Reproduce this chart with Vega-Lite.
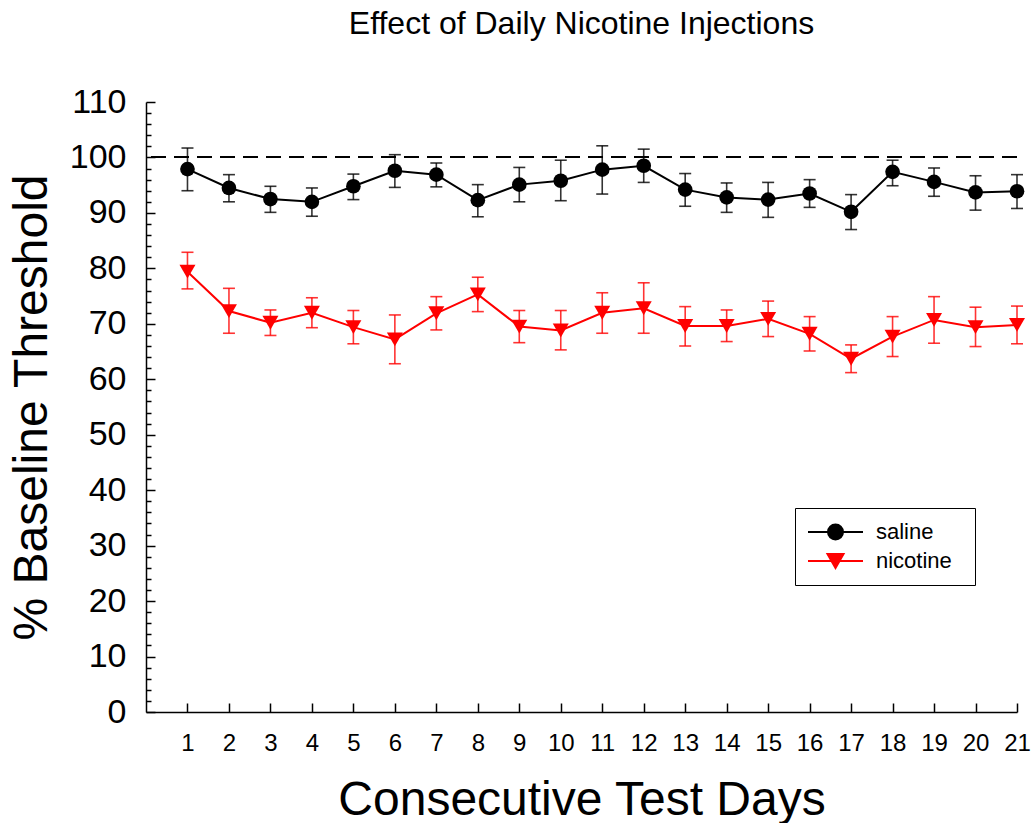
{
  "$schema": "https://vega.github.io/schema/vega-lite/v6.json",
  "width": 871,
  "height": 610,
  "autosize": {"type": "none"},
  "padding": {"left": 146, "top": 102, "right": 17, "bottom": 111},
  "background": "white",
  "title": {"text": "Effect of Daily Nicotine Injections", "fontSize": 32, "fontWeight": "normal", "font": "Liberation Sans", "color": "black", "anchor": "middle", "frame": "group", "baseline": "alphabetic", "offset": 19},
  "config": {
    "view": {"stroke": null},
    "font": "Liberation Sans",
    "axis": {"domainColor": "black", "tickColor": "black", "labelColor": "black", "titleColor": "black", "grid": false, "labelFont": "Liberation Sans", "titleFont": "Liberation Sans", "titleFontWeight": "normal", "domainWidth": 1.5, "tickWidth": 1.5}
  },
  "datasets": {
    "d": [
      {"day": 1, "group": "saline", "mean": 97.9, "lo": 94.0, "hi": 101.7},
      {"day": 2, "group": "saline", "mean": 94.5, "lo": 92.0, "hi": 96.9},
      {"day": 3, "group": "saline", "mean": 92.5, "lo": 90.1, "hi": 94.8},
      {"day": 4, "group": "saline", "mean": 92.0, "lo": 89.4, "hi": 94.5},
      {"day": 5, "group": "saline", "mean": 94.8, "lo": 92.4, "hi": 97.0},
      {"day": 6, "group": "saline", "mean": 97.6, "lo": 94.6, "hi": 100.5},
      {"day": 7, "group": "saline", "mean": 96.9, "lo": 94.7, "hi": 99.0},
      {"day": 8, "group": "saline", "mean": 92.3, "lo": 89.3, "hi": 95.1},
      {"day": 9, "group": "saline", "mean": 95.1, "lo": 92.0, "hi": 98.2},
      {"day": 10, "group": "saline", "mean": 95.8, "lo": 92.2, "hi": 99.5},
      {"day": 11, "group": "saline", "mean": 97.8, "lo": 93.4, "hi": 102.1},
      {"day": 12, "group": "saline", "mean": 98.5, "lo": 95.5, "hi": 101.5},
      {"day": 13, "group": "saline", "mean": 94.2, "lo": 91.2, "hi": 97.1},
      {"day": 14, "group": "saline", "mean": 92.8, "lo": 90.1, "hi": 95.4},
      {"day": 15, "group": "saline", "mean": 92.4, "lo": 89.2, "hi": 95.5},
      {"day": 16, "group": "saline", "mean": 93.5, "lo": 91.0, "hi": 96.0},
      {"day": 17, "group": "saline", "mean": 90.2, "lo": 87.0, "hi": 93.3},
      {"day": 18, "group": "saline", "mean": 97.4, "lo": 94.9, "hi": 99.5},
      {"day": 19, "group": "saline", "mean": 95.6, "lo": 93.0, "hi": 98.1},
      {"day": 20, "group": "saline", "mean": 93.7, "lo": 90.5, "hi": 96.7},
      {"day": 21, "group": "saline", "mean": 93.9, "lo": 90.8, "hi": 96.9},
      {"day": 1, "group": "nicotine", "mean": 79.4, "lo": 76.3, "hi": 82.9},
      {"day": 2, "group": "nicotine", "mean": 72.3, "lo": 68.3, "hi": 76.4},
      {"day": 3, "group": "nicotine", "mean": 70.2, "lo": 67.9, "hi": 72.5},
      {"day": 4, "group": "nicotine", "mean": 72.0, "lo": 69.3, "hi": 74.7},
      {"day": 5, "group": "nicotine", "mean": 69.4, "lo": 66.4, "hi": 72.4},
      {"day": 6, "group": "nicotine", "mean": 67.2, "lo": 62.8, "hi": 71.6},
      {"day": 7, "group": "nicotine", "mean": 71.9, "lo": 68.9, "hi": 74.9},
      {"day": 8, "group": "nicotine", "mean": 75.3, "lo": 72.2, "hi": 78.4},
      {"day": 9, "group": "nicotine", "mean": 69.5, "lo": 66.6, "hi": 72.4},
      {"day": 10, "group": "nicotine", "mean": 68.8, "lo": 65.3, "hi": 72.4},
      {"day": 11, "group": "nicotine", "mean": 72.0, "lo": 68.3, "hi": 75.6},
      {"day": 12, "group": "nicotine", "mean": 72.8, "lo": 68.3, "hi": 77.4},
      {"day": 13, "group": "nicotine", "mean": 69.6, "lo": 66.0, "hi": 73.1},
      {"day": 14, "group": "nicotine", "mean": 69.6, "lo": 66.8, "hi": 72.5},
      {"day": 15, "group": "nicotine", "mean": 70.9, "lo": 67.7, "hi": 74.1},
      {"day": 16, "group": "nicotine", "mean": 68.2, "lo": 65.1, "hi": 71.3},
      {"day": 17, "group": "nicotine", "mean": 63.7, "lo": 61.2, "hi": 66.2},
      {"day": 18, "group": "nicotine", "mean": 67.7, "lo": 64.1, "hi": 71.3},
      {"day": 19, "group": "nicotine", "mean": 70.7, "lo": 66.5, "hi": 74.9},
      {"day": 20, "group": "nicotine", "mean": 69.4, "lo": 65.9, "hi": 73.0},
      {"day": 21, "group": "nicotine", "mean": 69.8, "lo": 66.4, "hi": 73.2}
    ]
  },
  "data": {"name": "d"},
  "layer": [
    {
      "mark": {"type": "rule", "color": "black", "strokeWidth": 1.3, "strokeDash": [15, 8]},
      "encoding": {"y": {"datum": 100, "type": "quantitative", "scale": {"domain": [0, 110], "nice": false}, "axis": null}}
    },
    {
      "encoding": {
        "x": {
          "field": "day", "type": "quantitative",
          "scale": {"domain": [0, 21], "nice": false, "zero": false},
          "axis": {
            "values": [1,2,3,4,5,6,7,8,9,10,11,12,13,14,15,16,17,18,19,20,21],
            "tickSize": -9, "labelPadding": 28, "labelFontSize": 24, "labelFlush": false, "labelOverlap": false,
            "title": "Consecutive Test Days", "titleFontSize": 48, "titlePadding": 21
          }
        },
        "color": {
          "field": "group", "type": "nominal",
          "scale": {"domain": ["saline", "nicotine"], "range": ["black", "red"]},
          "legend": {
            "title": null, "orient": "none", "legendX": 649, "legendY": 406,
            "strokeColor": "black", "padding": 13, "rowPadding": 6,
            "labelFontSize": 22, "labelFont": "Liberation Sans", "labelColor": "black", "labelOffset": 46,
            "symbolStrokeWidth": 2, "symbolSize": 100,
            "encode": {
              "symbols": {
                "update": {
                  "shape": {"signal": "datum.value === 'saline' ? 'M-2.2,0L8.8,0M4.8,0A1.5,1.5,0,1,1,1.8,0A1.5,1.5,0,1,1,4.8,0ZM27.8,0' : 'M-2.2,0L8.8,0M1.7,-1.39L4.9,-1.39L3.3,1.39ZM27.8,0'"},
                  "fill": {"signal": "datum.value === 'saline' ? 'black' : 'red'"},
                  "stroke": {"signal": "datum.value === 'saline' ? 'black' : 'red'"},
                  "size": {"value": 100},
                  "strokeWidth": {"value": 2}
                }
              }
            }
          }
        }
      },
      "resolve": {"axis": {"y": "independent"}},
      "layer": [
        {
          "mark": {"type": "rule", "strokeWidth": 1.6, "opacity": 0.8},
          "encoding": {
            "y": {"field": "lo", "type": "quantitative", "scale": {"domain": [0, 110], "nice": false},
              "axis": {
                "orient": "left",
                "values": [0,10,20,30,40,50,60,70,80,90,100,110],
                "tickSize": -9,
                "labelPadding": 29, "labelFontSize": 34, "labelOverlap": false, "labelFlush": false,
                "title": "% Baseline Threshold", "titleFontSize": 48, "titlePadding": 13
              }
            },
            "y2": {"field": "hi"}
          }
        },
        {
          "mark": {"type": "tick", "orient": "horizontal", "size": 12, "thickness": 1.6, "opacity": 0.8},
          "encoding": {"y": {"field": "lo", "type": "quantitative",
            "axis": {"orient": "left", "values": [2,4,6,8,12,14,16,18,22,24,26,28,32,34,36,38,42,44,46,48,52,54,56,58,62,64,66,68,72,74,76,78,82,84,86,88,92,94,96,98,102,104,106,108], "tickSize": -5, "labels": false, "domain": false, "title": null}}}
        },
        {
          "mark": {"type": "tick", "orient": "horizontal", "size": 12, "thickness": 1.6, "opacity": 0.8},
          "encoding": {"y": {"field": "hi", "type": "quantitative", "axis": null}}
        },
        {
          "mark": {"type": "line", "strokeWidth": 2},
          "encoding": {"y": {"field": "mean", "type": "quantitative", "axis": null}}
        },
        {
          "transform": [{"filter": "datum.group === 'saline'"}],
          "mark": {"type": "point", "filled": true, "opacity": 1, "shape": "circle", "size": 215},
          "encoding": {"y": {"field": "mean", "type": "quantitative", "axis": null}}
        },
        {
          "transform": [{"filter": "datum.group === 'nicotine'"}],
          "mark": {"type": "point", "filled": true, "opacity": 1, "shape": "triangle-down", "size": 256},
          "encoding": {"y": {"field": "mean", "type": "quantitative", "axis": null}}
        }
      ]
    }
  ]
}
